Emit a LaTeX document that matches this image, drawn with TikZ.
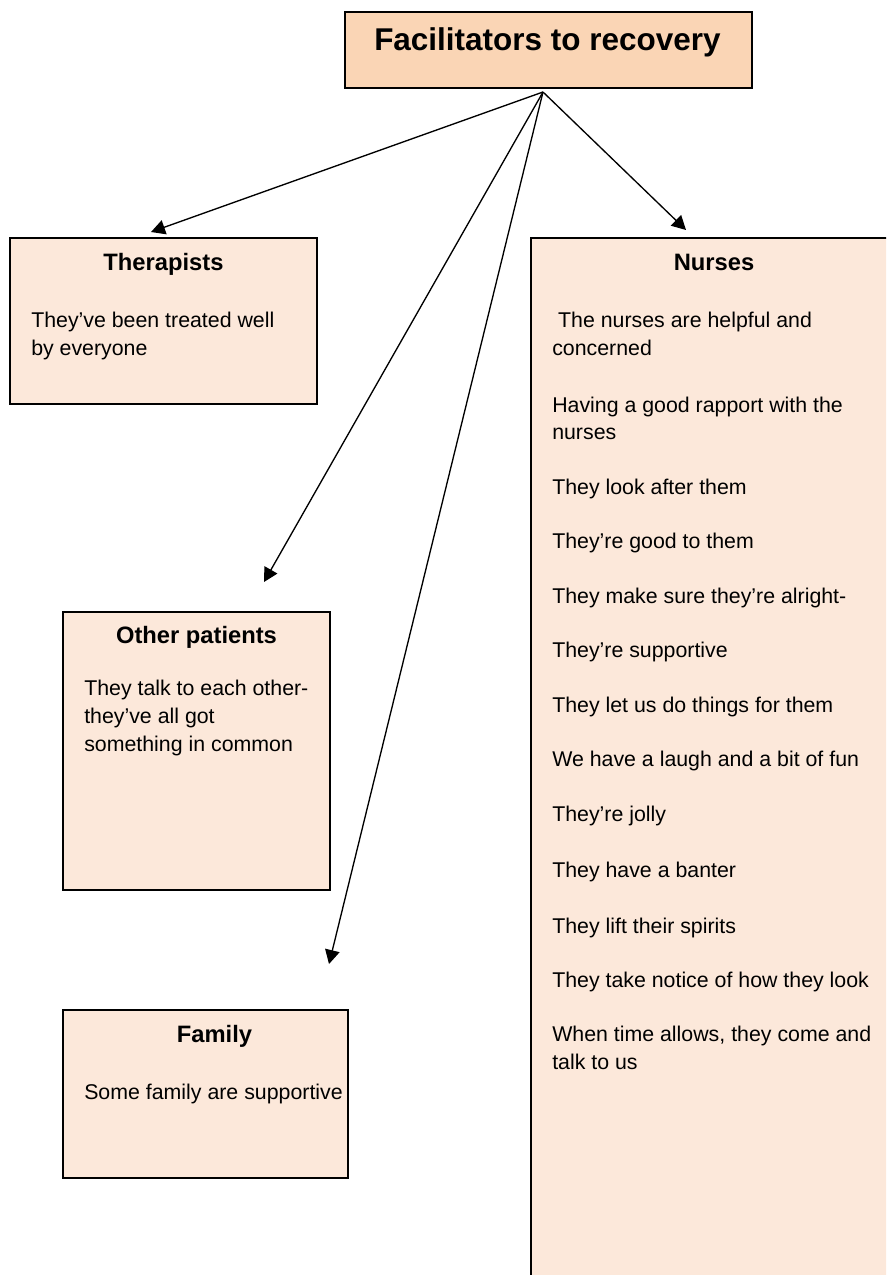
\documentclass[tikz,border=0pt]{standalone}
\usepackage{fontspec}
\setmainfont{Liberation Sans}
\usetikzlibrary{arrows.meta,fit}
\definecolor{titlefill}{HTML}{FAD5B5}
\definecolor{boxfill}{HTML}{FCE8DA}
\tikzset{
  box/.style={rectangle, draw=black, line width=1.1pt, fill=boxfill, inner sep=0pt},
  titlebox/.style={box, fill=titlefill},
  txt/.style={anchor=base west, inner sep=0pt, font=\fontsize{16}{19}\selectfont},
  head/.style={anchor=base, inner sep=0pt, font=\fontsize{17.8}{21}\selectfont\bfseries},
  link/.style={line width=1pt, -{Triangle[length=10.5pt,width=11pt]}}
}
\begin{document}
\begin{tikzpicture}[x=0.75pt, y=-0.75pt]
  \useasboundingbox (0,0) rectangle (886,1275);
  \clip (0,0) rectangle (886,1275);

  % boxes
  \node[titlebox, fit={(345,12) (752,88)}] (root) {};
  \node[box, fit={(10,238) (317,404)}] (ther) {};
  \node[box, fit={(531,238) (900,1290)}] (nurs) {};
  \node[box, fit={(63,612) (330,890)}] (other) {};
  \node[box, fit={(63,1010) (348,1178)}] (fam) {};

  % title
  \node[anchor=base west, inner sep=0pt, font=\fontsize{23.6}{28}\selectfont\bfseries]
    (roottext) at (374,50) {Facilitators to recovery};

  % Therapists
  \node[head] (therhead) at (163.5,270) {Therapists};
  \node[txt] (ther1) at (31,327) {They’ve been treated well};
  \node[txt] (ther2) at (31,355) {by everyone};

  % Other patients
  \node[head] (otherhead) at (196.5,643) {Other patients};
  \node[txt] (other1) at (84,695) {They talk to each other-};
  \node[txt] (other2) at (84,723) {they’ve all got};
  \node[txt] (other3) at (84,751) {something in common};

  % Family
  \node[head] (famhead) at (214.5,1042) {Family};
  \node[txt] (fam1) at (84,1099) {Some family are supportive};

  % Nurses
  \node[head] (nurshead) at (714,270) {Nurses};
  \node[txt] (n1)  at (552,327)  {\ The nurses are helpful and};
  \node[txt] (n2)  at (552,355)  {concerned};
  \node[txt] (n3)  at (552,412)  {Having a good rapport with the};
  \node[txt] (n4)  at (552,439)  {nurses};
  \node[txt] (n5)  at (552,494)  {They look after them};
  \node[txt] (n6)  at (552,548)  {They’re good to them};
  \node[txt] (n7)  at (552,603)  {They make sure they’re alright-};
  \node[txt] (n8)  at (552,657)  {They’re supportive};
  \node[txt] (n9)  at (552,712)  {They let us do things for them};
  \node[txt] (n10) at (552,766)  {We have a laugh and a bit of fun};
  \node[txt] (n11) at (552,821)  {They’re jolly};
  \node[txt] (n12) at (552,877)  {They have a banter};
  \node[txt] (n13) at (552,933)  {They lift their spirits};
  \node[txt] (n14) at (552,987)  {They take notice of how they look};
  \node[txt] (n15) at (552,1041) {When time allows, they come and};
  \node[txt] (n16) at (552,1069) {talk to us};

  % connectors from the hub under the title box
  \coordinate (hub) at (543,92);
  \coordinate (therTip)  at (151,232);
  \coordinate (nursTip)  at (686,230);
  \coordinate (otherTip) at (264,582);
  \coordinate (famTip)   at (329,964);
  \draw[link] (hub) -- (therTip);
  \draw[link] (hub) -- (nursTip);
  \draw[link] (hub) -- (otherTip);
  \draw[link] (hub) -- (famTip);
\end{tikzpicture}
\end{document}
